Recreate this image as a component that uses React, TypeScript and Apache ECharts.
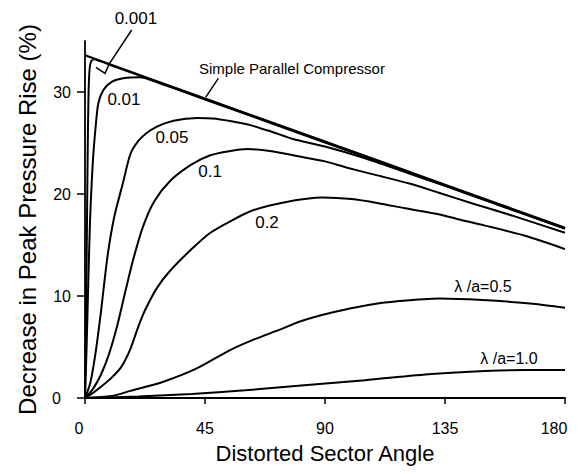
import React, { useEffect, useRef } from "react";
import * as echarts from "echarts";

// Axis ticks
const xTicks = [0, 45, 90, 135, 180];
const yTicks = [0, 10, 20, 30];

// Simple parallel compressor reference line
const simpleX = [0, 45, 90, 135, 180];
const simpleY = [33.6, 29.37, 25.15, 20.92, 16.7];

// λ/a = 0.001
const c001X = [0, 0.4, 0.7, 1.0, 1.3, 1.7, 2.3, 3.5, 6, 10, 20, 45, 90, 135, 180];
const c001Y = [0, 8, 16, 24, 29.5, 32.2, 33.0, 33.2, 33.0, 32.6, 31.67, 29.32, 25.1, 20.87, 16.65];

// λ/a = 0.01
const c01X = [0, 0.6, 1.2, 1.9, 2.5, 3.1, 4.1, 5, 6.9, 10, 14.4, 20.6, 28, 45, 90, 135, 180];
const c01Y = [0, 5, 11, 17.5, 21, 23.8, 26.9, 28.9, 30.2, 31.0, 31.35, 31.45, 30.85, 29.27, 25.05, 20.82, 16.6];

// λ/a = 0.05
const c05X = [0, 2, 4, 6, 8.5, 11, 14.25, 17, 20, 23.25, 27, 30.75, 36, 42, 48, 54.4, 62, 70, 78, 90, 105, 120, 135, 150, 165, 180];
const c05Y = [0, 1.5, 4.5, 8.5, 14.0, 17.8, 21.1, 23.9, 25.2, 26.0, 26.6, 27.0, 27.3, 27.45, 27.4, 27.15, 26.75, 26.1, 25.4, 24.65, 23.5, 22.15, 20.8, 19.4, 18.0, 16.6];

// λ/a = 0.1
const c1X = [0, 3, 6, 9, 12, 15, 18, 21.75, 26, 32, 40, 47, 54, 61, 70, 80, 90, 98, 110, 122, 133, 145, 160, 180];
const c1Y = [0, 0.9, 2.3, 4.3, 7.0, 10.3, 13.5, 16.8, 19.3, 21.3, 22.9, 23.8, 24.2, 24.4, 24.2, 23.7, 23.2, 22.6, 21.8, 21.0, 20.1, 19.1, 17.9, 16.2];

// λ/a = 0.2
const c2X = [0, 3, 6, 10, 13.5, 17, 20, 22.5, 27, 32, 40, 47, 55, 63, 75, 89, 100, 110, 120, 133, 141, 150, 165, 180];
const c2Y = [0, 0.5, 1.1, 2.0, 3.0, 4.8, 7.0, 8.6, 10.8, 12.5, 14.6, 16.2, 17.4, 18.4, 19.2, 19.65, 19.5, 19.1, 18.6, 18.0, 17.45, 16.9, 15.9, 14.6];

// λ/a = 0.5
const c5X = [0, 10, 17, 29.4, 41.9, 54.4, 63, 73, 80.6, 93, 105.75, 118, 133, 149, 168, 180];
const c5Y = [0, 0.2, 0.7, 1.6, 2.9, 4.7, 5.7, 6.7, 7.5, 8.4, 9.1, 9.5, 9.75, 9.6, 9.25, 8.85];

// λ/a = 1.0
const c10X = [0, 20, 40, 60, 80, 105, 130, 150, 165, 180];
const c10Y = [0, 0.15, 0.4, 0.75, 1.2, 1.75, 2.35, 2.65, 2.75, 2.75];

// Curve annotations (centre of each label, in data units)
const labelTexts = ["0.001", "Simple Parallel Compressor", "0.01", "0.05", "0.1", "0.2", "λ /a=0.5", "λ /a=1.0"];
const labelX = [19.1, 77.6, 14.6, 32.6, 46.9, 68.25, 149.25, 159];
const labelY = [37.25, 32.35, 29.3, 25.5, 22.25, 17.25, 10.9, 3.9];
const labelSize = [17, 15, 17, 17, 17, 17, 16, 16];

// Leader lines (data units)
const leader001X = [17.5, 9.1, 7.5, 4.1];
const leader001Y = [36.08, 32.75, 31.83, 32.42];
const leaderSimpleX = [50.0, 45.3];
const leaderSimpleY = [31.34, 29.5];

const FONT = '"Liberation Sans", Arial, Helvetica, sans-serif';

const zip = (xs: number[], ys: number[]) => xs.map((x, i) => [x, ys[i]]);

const curves = [
  { name: "Simple Parallel Compressor", x: simpleX, y: simpleY },
  { name: "0.001", x: c001X, y: c001Y },
  { name: "0.01", x: c01X, y: c01Y },
  { name: "0.05", x: c05X, y: c05Y },
  { name: "0.1", x: c1X, y: c1Y },
  { name: "0.2", x: c2X, y: c2Y },
  { name: "0.5", x: c5X, y: c5Y },
  { name: "1.0", x: c10X, y: c10Y },
];

export default function App() {
  const ref = useRef<HTMLDivElement>(null);

  useEffect(() => {
    if (!ref.current) return;
    const chart = echarts.init(ref.current, undefined, { renderer: "svg" });

    const option: any = {
      animation: false,
      backgroundColor: "#ffffff",
      grid: { left: 85, right: 20, top: 41, bottom: 76, containLabel: false },
      xAxis: {
        type: "value",
        min: 0,
        max: 180,
        interval: 45,
        name: "Distorted Sector Angle",
        nameLocation: "middle",
        nameGap: 44,
        nameTextStyle: { color: "#000", fontSize: 22, fontFamily: FONT },
        axisLine: { show: true, onZero: false, lineStyle: { color: "#000", width: 1.8 } },
        axisTick: { show: true, inside: false, length: 6, customValues: xTicks, lineStyle: { color: "#000", width: 1.5 } },
        axisLabel: {
          color: "#000",
          fontSize: 16,
          fontFamily: FONT,
          margin: 22,
          customValues: xTicks,
          formatter: (v: number) => (v === 180 ? "{r|180}" : v === 0 ? "{z|0}" : String(v)),
          rich: {
            r: { fontSize: 16, fontFamily: FONT, color: "#000", padding: [0, 22, 0, 0] },
            z: { fontSize: 16, fontFamily: FONT, color: "#000", padding: [0, 12, 0, 0] },
          },
        },
        splitLine: { show: false },
      },
      yAxis: {
        type: "value",
        min: 0,
        max: 35,
        interval: 10,
        name: "Decrease in Peak Pressure Rise (%)",
        nameLocation: "middle",
        nameGap: 46,
        nameRotate: 90,
        nameTextStyle: { color: "#000", fontSize: 24, fontFamily: FONT },
        axisLine: { show: true, onZero: false, lineStyle: { color: "#000", width: 1.8 } },
        axisTick: { show: true, inside: false, length: 8, customValues: yTicks, lineStyle: { color: "#000", width: 1.5 } },
        axisLabel: {
          color: "#000",
          fontSize: 16,
          fontFamily: FONT,
          margin: 14,
          customValues: yTicks,
          formatter: (v: number) => (v === 0 ? "{z|0}" : String(v)),
          rich: { z: { fontSize: 16, fontFamily: FONT, color: "#000", padding: [0, 10, 0, 0] } },
        },
        splitLine: { show: false },
      },
      series: curves.map((c) => ({
        name: c.name,
        type: "line",
        data: zip(c.x, c.y),
        showSymbol: false,
        symbol: "none",
        smooth: 0.25,
        silent: true,
        lineStyle: { color: "#000", width: 2 },
      })),
    };
    chart.setOption(option);

    const px = (x: number, y: number) => chart.convertToPixel({ gridIndex: 0 }, [x, y]) as number[];

    const texts = labelTexts.map((t, i) => {
      const p = px(labelX[i], labelY[i]);
      return {
        type: "text",
        x: p[0],
        y: p[1],
        silent: true,
        style: {
          text: t,
          fill: "#000",
          fontSize: labelSize[i],
          fontFamily: FONT,
          align: "center",
          verticalAlign: "middle",
          textAlign: "center",
          textVerticalAlign: "middle",
        },
      };
    });

    const leaders = [
      zip(leader001X, leader001Y),
      zip(leaderSimpleX, leaderSimpleY),
    ].map((pts) => ({
      type: "polyline",
      silent: true,
      shape: { points: pts.map((p) => px(p[0], p[1])) },
      style: { stroke: "#000", lineWidth: 1.5, fill: "none" },
    }));

    chart.setOption({ graphic: [...leaders, ...texts] });

    return () => chart.dispose();
  }, []);

  return (
    <div
      ref={ref}
      style={{ position: "fixed", left: 0, top: 0, width: 585, height: 474, background: "#fff" }}
    />
  );
}
